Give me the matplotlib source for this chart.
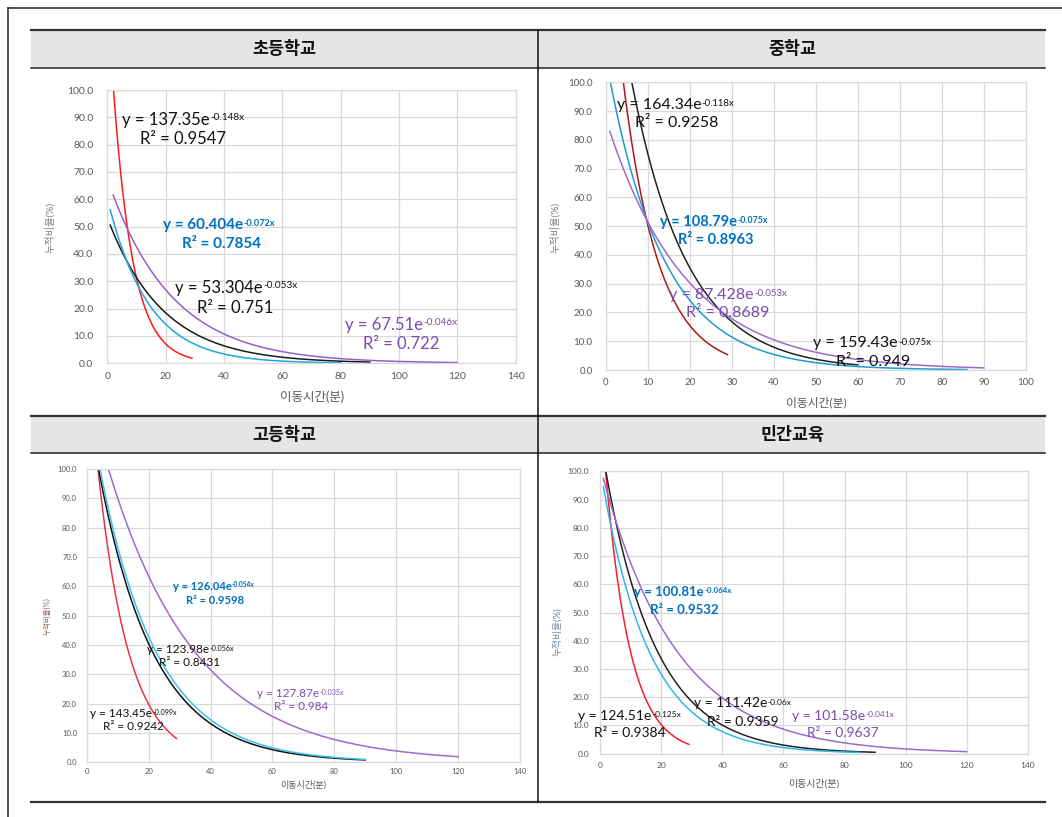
import numpy as np
import matplotlib
matplotlib.use("Agg")
import matplotlib.pyplot as plt
from matplotlib.patches import Rectangle

plt.rcParams['font.family'] = ['Lato', 'Noto Sans CJK KR', 'DejaVu Sans']

# ---------------- data ----------------
panel_titles = ['초등학교', '중학교', '고등학교', '민간교육']
x_label = '이동시간(분)'
y_label = '누적비율(%)'

# series order in each panel: red, black, cyan, purple  (exponential trendlines y = a*e^(-b x))
elem_a = [137.35, 53.304, 60.404, 67.51]
elem_b = [0.148, 0.053, 0.072, 0.046]
elem_r2 = ['0.9547', '0.751', '0.7854', '0.722']
elem_x0 = [1, 1, 1, 2]
elem_x1 = [29, 90, 80, 120]

middle_a = [164.34, 159.43, 108.79, 87.428]
middle_b = [0.118, 0.075, 0.075, 0.053]
middle_r2 = ['0.9258', '0.949', '0.8963', '0.8689']
middle_x0 = [1, 1, 1, 1]
middle_x1 = [29, 60, 86, 90]

high_a = [143.45, 123.98, 126.04, 127.87]
high_b = [0.099, 0.056, 0.054, 0.035]
high_r2 = ['0.9242', '0.8431', '0.9598', '0.984']
high_x0 = [1, 1, 1, 1]
high_x1 = [29, 90, 90, 120]

private_a = [124.51, 111.42, 100.81, 101.58]
private_b = [0.125, 0.06, 0.064, 0.041]
private_r2 = ['0.9384', '0.9359', '0.9532', '0.9637']
private_x0 = [1, 1, 1, 1]
private_x1 = [29, 90, 85, 120]

x_max = [140, 100, 140, 140]
x_step = [20, 10, 20, 20]
y_ticks = [0, 10, 20, 30, 40, 50, 60, 70, 80, 90, 100]

# ---------------- style ----------------
W, H = 1062, 817
fig = plt.figure(figsize=(W / 100, H / 100), dpi=100)

bg = fig.add_axes([0, 0, 1, 1], zorder=-5)
bg.set_xlim(0, W)
bg.set_ylim(H, 0)
bg.axis('off')

# table frame
bg.plot([8, W], [8, 8], color='#222222', lw=1.1)
bg.plot([8, 8], [8, H], color='#222222', lw=1.1)
for top, bot in [(30, 68), (416, 453)]:
    bg.add_patch(Rectangle((31, top), 1014, bot - top, fc='#E5E5E5', ec='none'))
    bg.plot([31, 1045], [top, top], color='#333333', lw=1.6)
    bg.plot([31, 1045], [bot, bot], color='#222222', lw=1.1)
bg.plot([31, 1045], [802, 802], color='#333333', lw=1.6)
bg.plot([538, 538], [30, 802], color='#111111', lw=1.1)

title_pos = [(284, 49), (792, 49), (284, 435), (792, 435)]
for (tx, ty), t in zip(title_pos, panel_titles):
    bg.text(tx, ty, t, ha='center', va='center', fontsize=12.5, fontweight='bold',
            family=['Noto Sans CJK KR', 'DejaVu Sans'], color='#111111')

# axes rectangles in pixels: left, top, right, bottom
ax_px = [(107.3, 90, 515.7, 363.3), (605.7, 82.3, 1025.7, 370),
         (86.7, 469, 520, 762.3), (600.3, 471.3, 1027.7, 753.7)]
ylab_pos = [(50, 227), (555, 227), (47, 616), (557, 632)]
xlab_pos = [(312, 397), (816, 402), (303, 785), (814, 784)]
ylab_color = ['#7F7F7F', '#7F7F7F', '#8A6A58', '#6A88A8']
tick_fs = [7.5, 7, 5.5, 6]
xlab_fs = [9, 8.5, 6.5, 7.2]
ylab_fs = [7.3, 7.3, 5.4, 7]
ann_fs = [12, 11.5, 8.5, 10]
ann_bold_fs = [11, 10.5, 8, 9.5]
ytick_pad = [10, 9.5, 7, 8]
xtick_pad = [6, 6, 4, 6]

line_colors = [
    ['#FF1A1A', '#1A1A1A', '#1AA7E0', '#9460C8'],
    ['#B01818', '#222222', '#1B9BD0', '#9B6BCB'],
    ['#E8344A', '#111111', '#3CC0F0', '#9B6BCB'],
    ['#F02030', '#222222', '#33B5EA', '#9B6BCB'],
]
text_colors = ['#111111', '#111111', '#0070C0', '#7A4CB0']
text_bold = [False, False, True, False]

# label positions (data coords) : eq (x,y), r2 (x,y)
label_pos = [
    [((5.0, 89.0), (11.2, 82.1)), ((23.2, 27.6), (30.7, 20.2)),
     ((19.1, 50.6), (25.6, 43.7)), ((81.5, 14.0), (87.6, 7.1))],
    [((2.6, 92.1), (7.0, 85.7)), ((49.4, 9.3), (54.8, 2.9)),
     ((12.9, 51.5), (17.3, 45.2)), ((15.1, 26.1), (19.1, 19.7))],
    [((1.1, 16.7), (5.4, 12.1)), ((19.4, 38.5), (23.5, 34.0)),
     ((27.8, 60.1), (32.1, 55.3)), ((55.1, 23.5), (60.5, 19.0))],
    [((-7.2, 13.5), (-2.1, 7.2)), ((30.7, 17.8), (34.9, 11.3)),
     ((11.1, 57.4), (16.3, 50.9)), ((62.9, 13.5), (67.8, 7.2))],
]

all_a = [elem_a, middle_a, high_a, private_a]
all_b = [elem_b, middle_b, high_b, private_b]
all_r2 = [elem_r2, middle_r2, high_r2, private_r2]
all_x0 = [elem_x0, middle_x0, high_x0, private_x0]
all_x1 = [elem_x1, middle_x1, high_x1, private_x1]

for p in range(4):
    l, t, r, b = ax_px[p]
    ax = fig.add_axes([l / W, 1 - b / H, (r - l) / W, (b - t) / H])
    ax.set_xlim(0, x_max[p])
    ax.set_ylim(0, 100)
    ax.set_xticks(np.arange(0, x_max[p] + 1, x_step[p]))
    ax.set_yticks(y_ticks)
    ax.set_yticklabels([f'{v:.1f}' for v in y_ticks])
    ax.grid(True, color='#D9D9D9', lw=0.9)
    ax.set_axisbelow(True)
    for s in ax.spines.values():
        s.set_color('#D9D9D9')
        s.set_linewidth(0.9)
    ax.tick_params(axis='both', length=0, labelsize=tick_fs[p], colors='#595959')
    ax.tick_params(axis='y', pad=ytick_pad[p])
    ax.tick_params(axis='x', pad=xtick_pad[p])

    for i in range(4):
        a, k = all_a[p][i], all_b[p][i]
        xs = np.linspace(all_x0[p][i], all_x1[p][i], 400)
        ax.plot(xs, a * np.exp(-k * xs), color=line_colors[p][i], lw=1.1)

    for i in range(4):
        a, k = all_a[p][i], all_b[p][i]
        (ex, ey), (rx, ry) = label_pos[p][i]
        fs = ann_bold_fs[p] if text_bold[i] else ann_fs[p]
        fw = 'bold' if text_bold[i] else 'normal'
        c = text_colors[i]
        tx = ax.text(ex, ey, f'y = {a}e', ha='left', va='center', fontsize=fs,
                     fontweight=fw, color=c, clip_on=False)
        ax.annotate(f'-{k}x', xy=(1, 1), xycoords=tx, xytext=(0.3, -fs * 0.08),
                    textcoords='offset points', ha='left', va='top',
                    fontsize=fs * 0.6, fontweight=fw, color=c)
        ax.text(rx, ry, f'R\u00b2 = {all_r2[p][i]}', ha='left', va='center',
                fontsize=fs, fontweight=fw, color=c, clip_on=False)

    bg.text(*ylab_pos[p], y_label, rotation=90, ha='center', va='center',
            fontsize=ylab_fs[p], color=ylab_color[p])
    bg.text(*xlab_pos[p], x_label, ha='center', va='center',
            fontsize=xlab_fs[p], color='#595959')

fig.savefig('out.png', dpi=100)
